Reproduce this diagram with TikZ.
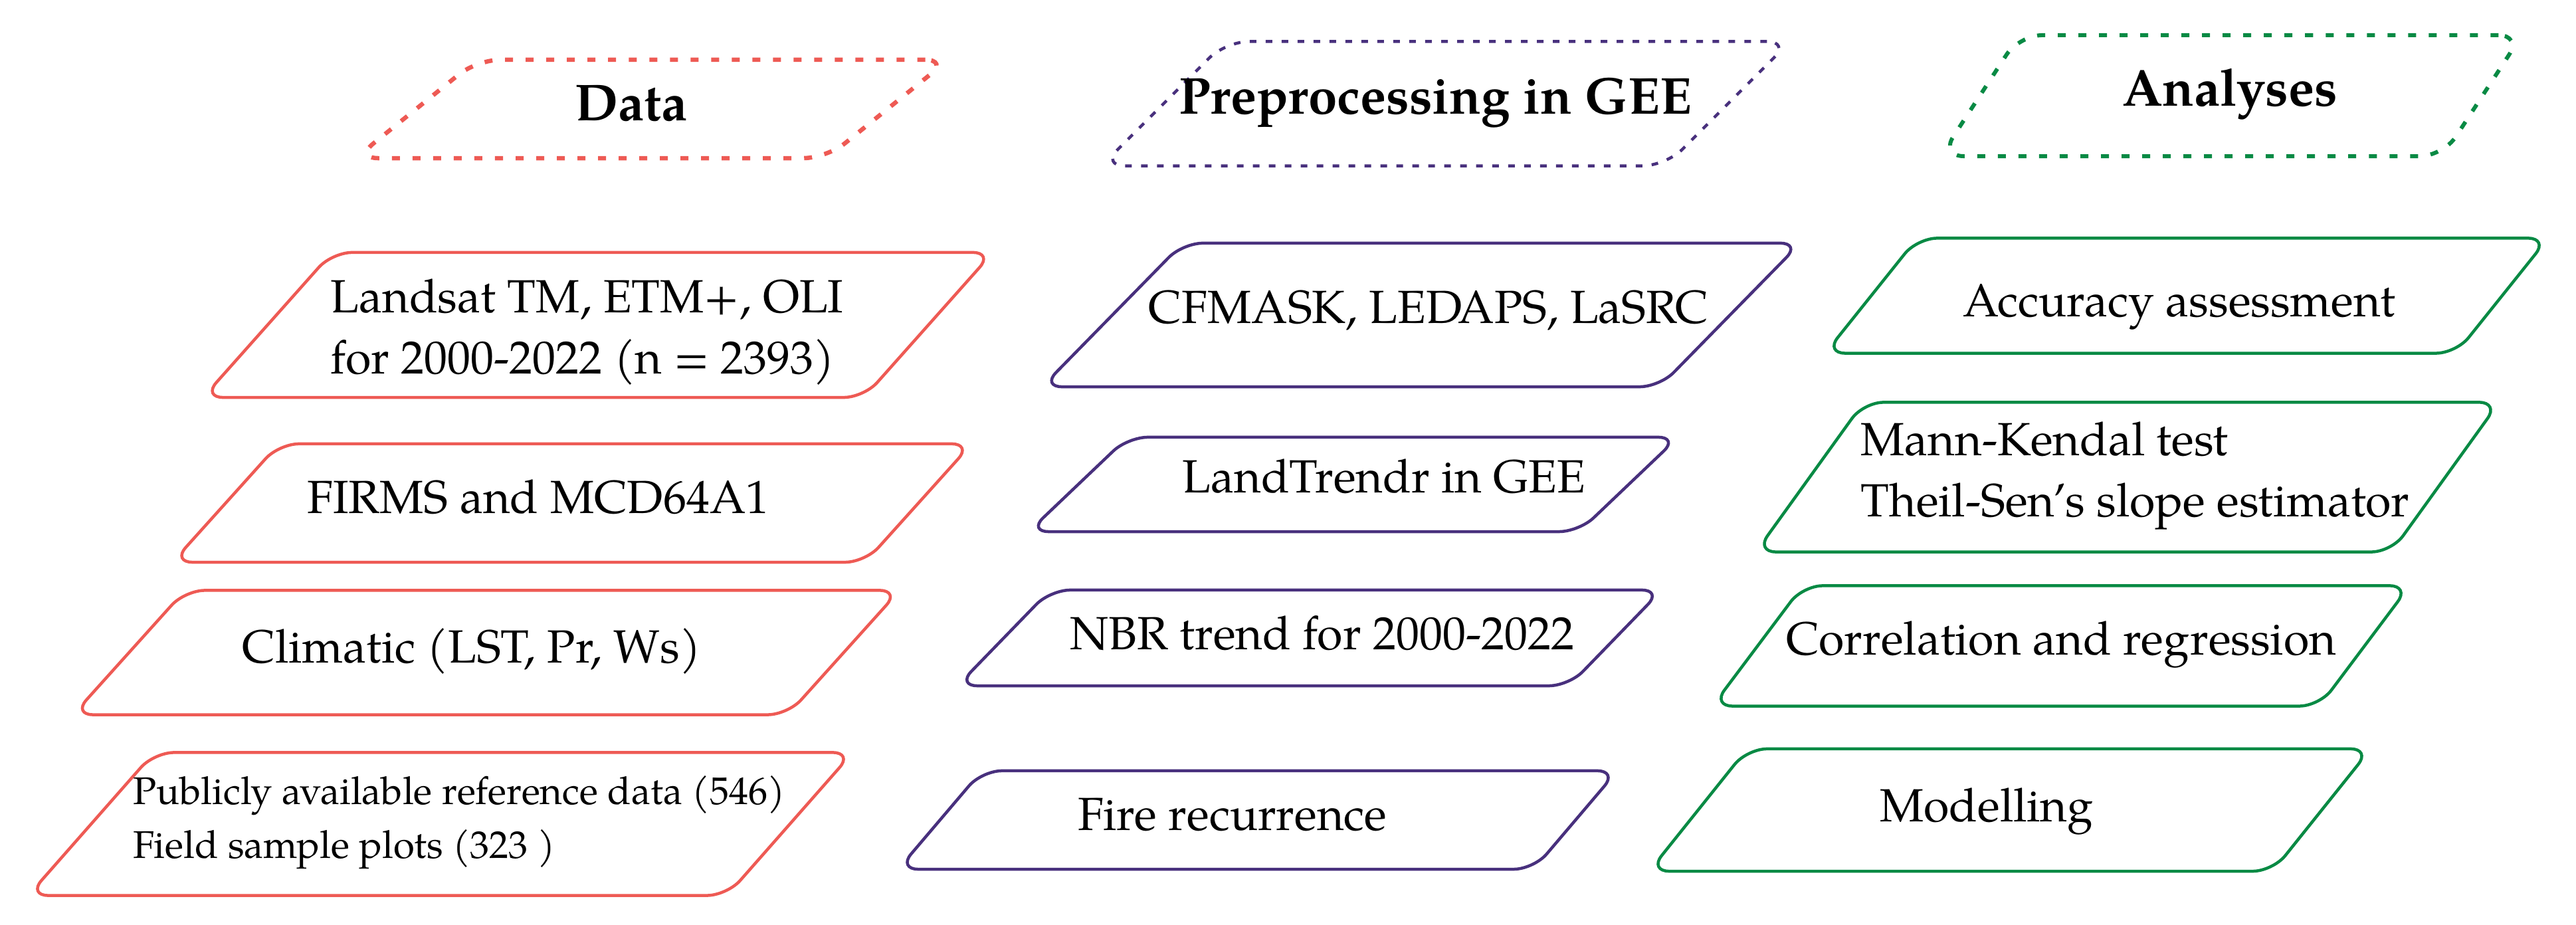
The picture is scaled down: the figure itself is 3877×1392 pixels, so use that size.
\documentclass[tikz,border=0pt]{standalone}
\usepackage{fontspec}
\setmainfont{TeX Gyre Pagella}
\definecolor{datared}{RGB}{238,90,84}
\definecolor{geepurple}{RGB}{72,48,125}
\definecolor{angreen}{RGB}{8,138,68}

\begin{document}
\begin{tikzpicture}[x=0.01cm,y=-0.01cm,
  plg/.style={draw,rectangle,inner sep=0pt,rounded corners=0.3cm,line width=0.045cm},
  head/.style={plg,rounded corners=0.35cm,line width=0.065cm,dash pattern=on 0.12cm off 0.19cm},
  txt/.style={inner sep=0pt,font=\fontsize{19.9}{26.2}\selectfont},
  htxt/.style={inner sep=0pt,font=\fontsize{22.2}{26}\selectfont\bfseries}]
\useasboundingbox (0,0) rectangle (3877,1392);

\node[head,draw=datared,xslant=1.24,minimum width=7.09cm,minimum height=1.48cm] (data) at (981,164) {};
\node[head,draw=geepurple,line width=0.045cm,dash pattern=on 0.1cm off 0.14cm,xslant=1.0,minimum width=8.49cm,minimum height=1.87cm] (gee) at (2176,156) {};
\node[head,draw=angreen,line width=0.06cm,xslant=0.65,minimum width=7.56cm,minimum height=1.82cm] (analyses) at (3358,144) {};
\node[htxt,anchor=base] (datatext) at (950,182) {Data};
\node[htxt,anchor=base] (geetext) at (2160,172) {Preprocessing in GEE};
\node[htxt,anchor=base] (analysestext) at (3356,160) {Analyses};

\node[plg,draw=datared,xslant=0.89,minimum width=9.94cm,minimum height=2.18cm] (landsat) at (900,489) {};
\node[plg,draw=datared,xslant=0.9,minimum width=10.42cm,minimum height=1.78cm] (firms) at (861,757) {};
\node[plg,draw=datared,xslant=0.9,minimum width=10.75cm,minimum height=1.87cm] (climatic) at (732,982) {};
\node[plg,draw=datared,xslant=0.88,minimum width=10.51cm,minimum height=2.15cm] (refdata) at (663,1240) {};
\node[txt,align=left,anchor=north west] (landsattext) at (497,419) {Landsat TM, ETM+, OLI\\for 2000-2022 (n = 2393)};
\node[txt,anchor=base] (firmstext) at (810,773) {FIRMS and MCD64A1};
\node[txt,anchor=base] (climatictext) at (710,998) {Climatic (LST, Pr, Ws)};
\node[txt,align=left,anchor=north west,font=\fontsize{16.5}{22.8}\selectfont] (refdatatext) at (200,1167) {Publicly available reference data (546)\\Field sample plots (323 )};

\node[plg,draw=geepurple,xslant=0.98,minimum width=9.29cm,minimum height=2.16cm] (cfmask) at (2139,474) {};
\node[plg,draw=geepurple,xslant=1.05,minimum width=8.28cm,minimum height=1.42cm] (landtrendr) at (2037,729) {};
\node[plg,draw=geepurple,xslant=0.97,minimum width=9.20cm,minimum height=1.44cm] (nbr) at (1971,960) {};
\node[plg,draw=geepurple,xslant=0.85,minimum width=9.56cm,minimum height=1.48cm] (fire) at (1893,1234) {};
\node[txt,anchor=base] (cfmasktext) at (2150,487) {CFMASK, LEDAPS, LaSRC};
\node[txt,anchor=base] (landtrendrtext) at (2083,742) {LandTrendr in GEE};
\node[txt,anchor=base] (nbrtext) at (1990,978) {NBR trend for 2000-2022};
\node[txt,anchor=base] (firetext) at (1855,1250) {Fire recurrence};

\node[plg,draw=angreen,xslant=0.8,minimum width=9.49cm,minimum height=1.73cm] (accuracy) at (3291,445) {};
\node[plg,draw=angreen,xslant=0.72,minimum width=9.56cm,minimum height=2.25cm] (mk) at (3202,718) {};
\node[plg,draw=angreen,xslant=0.75,minimum width=9.13cm,minimum height=1.81cm] (correlation) at (3102,972) {};
\node[plg,draw=angreen,xslant=0.8,minimum width=9.38cm,minimum height=1.84cm] (modelling) at (3025,1219) {};
\node[txt,anchor=base] (accuracytext) at (3280,477) {Accuracy assessment};
\node[txt,align=left,anchor=north west] (mktext) at (2800,634) {Mann-Kendal test\\Theil-Sen’s slope estimator};
\node[txt,anchor=base] (correlationtext) at (3102,986) {Correlation and regression};
\node[txt,anchor=base] (modellingtext) at (2990,1237) {Modelling};
\end{tikzpicture}
\end{document}
